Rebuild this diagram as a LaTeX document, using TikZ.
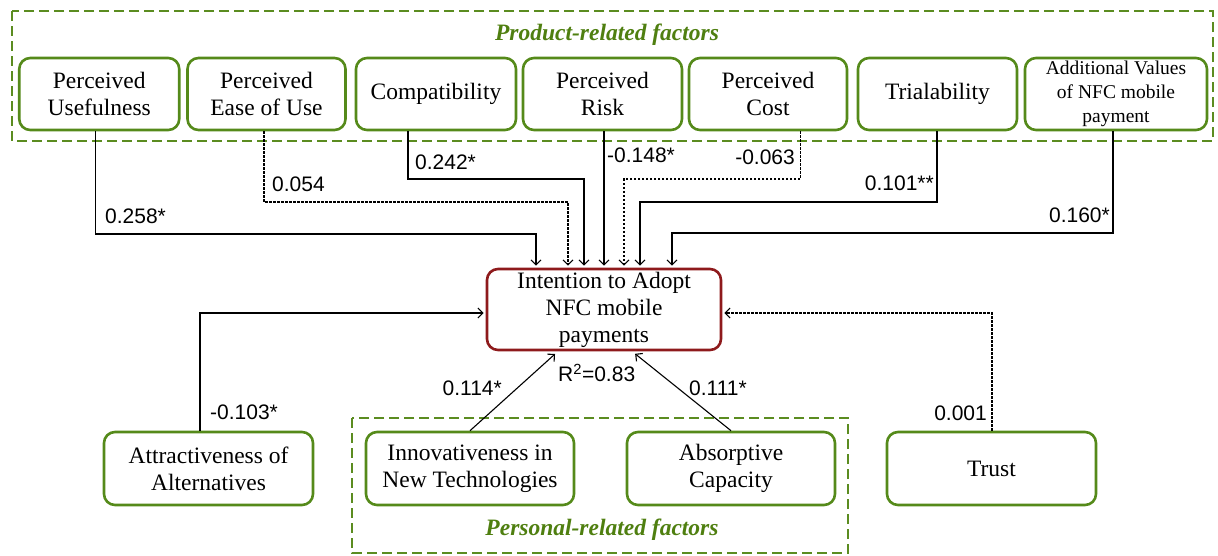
\documentclass[tikz,border=0pt]{standalone}
\usepackage{fontspec}
\setmainfont{Liberation Serif}
\newfontfamily\numfont{Liberation Sans}
\usetikzlibrary{arrows.meta}
\definecolor{boxgreen}{HTML}{558A1A}
\definecolor{dashgreen}{HTML}{5B8C20}
\definecolor{titlegreen}{HTML}{4F7F10}
\definecolor{cenred}{HTML}{8E1A1C}
\begin{document}
\begin{tikzpicture}[x=1pt,y=-1pt,
  fbox/.style={draw=boxgreen, line width=2.6pt, rounded corners=11pt, fill=white,
    align=center, inner sep=0pt, font=\fontsize{23.5}{27}\selectfont},
  topbox/.style={fbox, minimum height=72pt},
  botbox/.style={fbox, minimum height=73pt, minimum width=208pt},
  cenbox/.style={draw=cenred, line width=2.6pt, rounded corners=11pt, fill=white,
    align=center, inner sep=0pt, minimum width=234pt, minimum height=81pt,
    font=\fontsize{23.5}{27}\selectfont},
  group/.style={draw=dashgreen, line width=2.8pt, dash pattern=on 10pt off 5pt},
  gtitle/.style={text=titlegreen, inner sep=0pt, font=\fontsize{23.5}{26}\selectfont\bfseries\itshape},
  conn/.style={line width=1.1pt, -{Straight Barb[length=5pt,width=10pt]}, shorten >=2pt},
  dconn/.style={conn, dash pattern=on 2.5pt off 1.5pt},
  lab/.style={inner sep=0pt, font=\fontsize{21}{24}\numfont}
]
\useasboundingbox (0,0) rectangle (1218,555);

% group frames
\draw[group] (12,11) rectangle (1213,141);
\draw[group] (352,418) rectangle (848,553);
\node[gtitle] (pt) at (607,35) {Product-related factors};
\node[gtitle] (st) at (602,530) {Personal-related factors};

% top boxes
\node[topbox, minimum width=160pt] (b1) at (99.25,94) {Perceived\\Usefulness};
\node[topbox, minimum width=158pt] (b2) at (266.5,94) {Perceived\\Ease of Use};
\node[topbox, minimum width=160pt] (b3) at (436,94) {Compatibility};
\node[topbox, minimum width=159pt] (b4) at (602.5,94) {Perceived\\Risk};
\node[topbox, minimum width=158pt] (b5) at (768,94) {Perceived\\Cost};
\node[topbox, minimum width=159pt] (b6) at (937.5,94) {Trialability};
\node[topbox, minimum width=182pt, font=\fontsize{19.5}{24}\selectfont] (b7) at (1116,94) {Additional Values\\of NFC mobile\\payment};

% central box
\node[cenbox] (cen) at (604,309.5) {Intention to Adopt\\NFC mobile\\payments};

% bottom boxes
\node[botbox, minimum width=209pt] (att) at (208.5,468.5) {Attractiveness of\\Alternatives};
\node[botbox] (inn) at (470,468.5) {Innovativeness in\\New Technologies};
\node[botbox] (abs) at (731,468.5) {Absorptive\\Capacity};
\node[botbox, minimum width=209pt] (tru) at (991.5,468.5) {Trust};

% bend points
\coordinate (k1) at (536,234);
\coordinate (k2) at (568,202);
\coordinate (k3) at (584,179);
\coordinate (k5) at (624,179);
\coordinate (k6) at (640,202);
\coordinate (k7) at (672,233);

% connectors
\draw[conn]  ([xshift=-4pt]b1.south) |- (k1) -- (k1 |- cen.north);
\draw[dconn] ([xshift=-2.5pt]b2.south) |- (k2) -- (k2 |- cen.north);
\draw[conn]  ([xshift=-28pt]b3.south) |- (k3) -- (k3 |- cen.north);
\draw[conn]  (cen.north |- b4.south) -- (cen.north);
\draw[dconn] ([xshift=32.5pt]b5.south) |- (k5) -- (k5 |- cen.north);
\draw[conn]  ([xshift=-0.5pt]b6.south) |- (k6) -- (k6 |- cen.north);
\draw[conn]  ([xshift=-3pt]b7.south) |- (k7) -- (k7 |- cen.north);

\draw[conn]  ([xshift=-8.5pt]att.north) |- ([yshift=-3.5pt]cen.west);
\draw[dconn] ([xshift=0.5pt]tru.north) |- ([yshift=-3.5pt]cen.east);
\draw[conn, shorten >=4pt] (inn.north) -- ([xshift=-46pt]cen.south);
\draw[conn, shorten >=4pt] (abs.north) -- ([xshift=28pt]cen.south);

% labels
\node[lab, anchor=west] (l1) at (105,216) {0.258*};
\node[lab, anchor=west] (l2) at (272,184) {0.054};
\node[lab, anchor=west] (l3) at (415,162) {0.242*};
\node[lab, anchor=west] (l4) at (607,155) {-0.148*};
\node[lab, anchor=east] (l5) at (795,157) {-0.063};
\node[lab, anchor=east] (l6) at (934,183) {0.101**};
\node[lab, anchor=east] (l7) at (1110,215) {0.160*};
\node[lab, anchor=west] (l8) at (210,412) {-0.103*};
\node[lab, anchor=east] (l9) at (502,388) {0.114*};
\node[lab, anchor=west] (l10) at (558,373) {R\textsuperscript{2}=0.83};
\node[lab, anchor=west] (l11) at (689,388) {0.111*};
\node[lab, anchor=east] (l12) at (987,413) {0.001};
\end{tikzpicture}
\end{document}
